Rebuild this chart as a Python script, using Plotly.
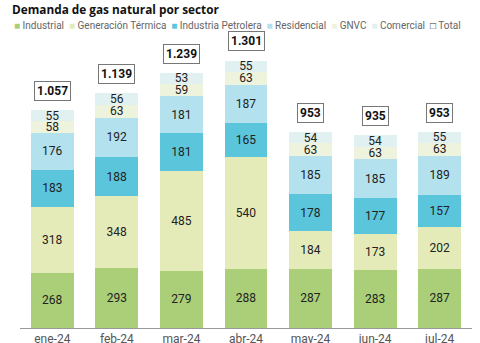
import plotly.graph_objects as go

months = ["ene-24", "feb-24", "mar-24", "abr-24", "may-24", "jun-24", "jul-24"]
industrial = [268, 293, 279, 288, 287, 283, 287]
gen_termica = [318, 348, 485, 540, 184, 173, 202]
ind_petrolera = [183, 188, 181, 165, 178, 177, 157]
residencial = [176, 192, 181, 187, 185, 185, 189]
gnvc = [58, 63, 59, 63, 63, 63, 63]
comercial = [55, 56, 53, 55, 54, 54, 55]
totals = [1057, 1139, 1239, 1301, 953, 935, 953]

series = [
    ("Industrial", industrial, "#aacf78"),
    ("Generación Térmica", gen_termica, "#e4ebb9"),
    ("Industria Petrolera", ind_petrolera, "#5bc5dc"),
    ("Residencial", residencial, "#b3e1ee"),
    ("GNVC", gnvc, "#eef3de"),
    ("Comercial", comercial, "#e1f0f0"),
]

COND = "Roboto, sans-serif"

W, H = 480, 343
ML, MR, MT, MB = 20, 8, 40, 15
PW, PH = W - ML - MR, H - MT - MB

fig = go.Figure()
for name, vals, col in series:
    fig.add_trace(go.Bar(
        x=months, y=vals, name=name, marker=dict(color=col, line=dict(width=0)),
        text=[str(v) for v in vals], textposition="inside", insidetextanchor="middle",
        textangle=0, textfont=dict(family=COND, size=12, color="#222222"),
        cliponaxis=False, showlegend=False,
    ))

for m, t in zip(months, totals):
    fig.add_annotation(
        x=m, y=t, xref="x", yref="y", yshift=19, showarrow=False,
        text="<b>" + f"{t:,}".replace(",", ".") + "</b>",
        font=dict(family=COND, size=12, color="#111111"),
        bordercolor="#777777", borderwidth=1, borderpad=2, bgcolor="white",
    )

legend_parts = []
for name, vals, col in series:
    legend_parts.append(f'<span style="color:{col}">■</span> {name}')
legend_parts.append('<span style="color:#333333">□</span> Total')
fig.add_annotation(
    x=(12 - ML) / PW, y=(H - MB - 25) / PH, xref="paper", yref="paper", showarrow=False,
    xanchor="left", yanchor="middle",
    text="  ".join(legend_parts), font=dict(family=COND, size=10, color="#666666"),
)

fig.update_layout(
    width=W, height=H, barmode="stack", bargap=0.335,
    margin=dict(l=ML, r=MR, t=MT, b=MB, autoexpand=False),
    paper_bgcolor="white", plot_bgcolor="white",
    title=dict(text="<b>Demanda de gas natural por sector</b>", x=0.025, xanchor="left",
               y=1 - 10 / H, yanchor="middle",
               font=dict(family="Open Sans, sans-serif", size=11.8, color="#111111")),
    uniformtext=dict(minsize=12, mode="show"),
    xaxis=dict(showline=True, linecolor="#999999", linewidth=1, ticks="", automargin=False,
               tickfont=dict(family=COND, size=12, color="#555555"), fixedrange=True),
    yaxis=dict(range=[0, 1398], visible=False, showgrid=False, fixedrange=True, automargin=False),
)

fig.write_html("out.html")
